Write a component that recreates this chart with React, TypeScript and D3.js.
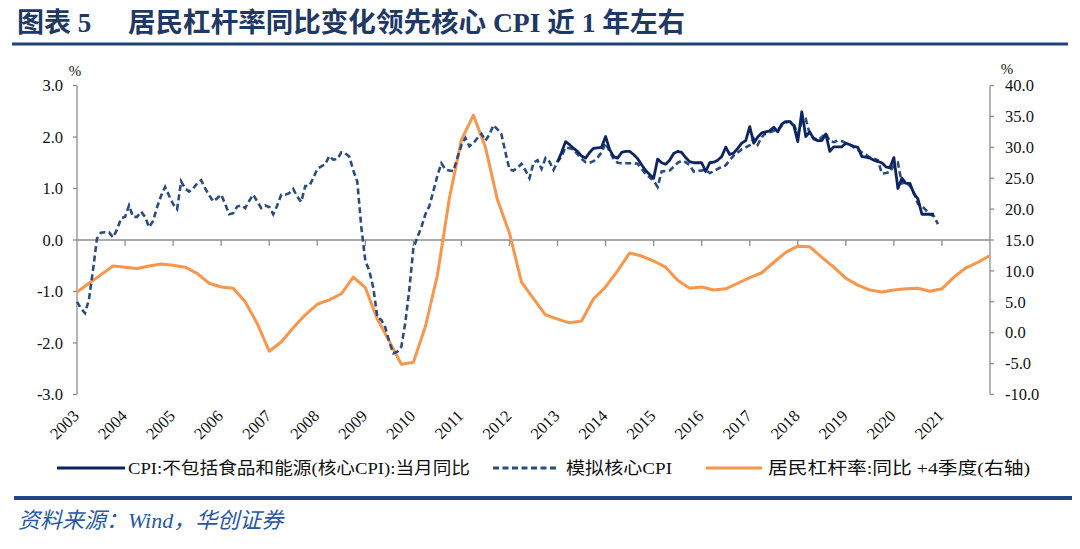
import React from 'react';
import * as d3 from 'd3';

const yearLabels = ['2003','2004','2005','2006','2007','2008','2009','2010','2011','2012','2013','2014','2015','2016','2017','2018','2019','2020','2021'];
const leftTicks = [-3, -2, -1, 0, 1, 2, 3];
const rightTicks = [-10, -5, 0, 5, 10, 15, 20, 25, 30, 35, 40];

// monthly, starting 2003-01
const simCore = [
  -1.20,-1.33,-1.42,-1.15,-0.58,0.03,0.14,0.15,0.15,0.05,0.20,0.42,
  0.45,0.67,0.45,0.45,0.55,0.45,0.25,0.37,0.64,0.86,1.03,0.86,
  0.70,0.60,1.14,1.00,0.94,1.00,1.10,1.16,1.00,0.87,0.75,0.81,
  0.88,0.70,0.50,0.52,0.65,0.67,0.62,0.76,0.88,0.75,0.62,0.67,
  0.64,0.50,0.67,0.88,0.88,0.91,0.99,0.84,0.74,1.05,1.05,1.20,
  1.38,1.43,1.47,1.63,1.56,1.57,1.70,1.68,1.62,1.35,1.13,0.25,
  -0.40,-0.60,-0.93,-1.50,-1.55,-1.70,-1.98,-2.20,-2.17,-2.07,-1.60,-0.95,
  -0.16,0.05,0.25,0.50,0.66,0.95,1.25,1.49,1.37,1.35,1.34,1.60,
  1.84,1.98,1.82,1.88,1.98,2.06,1.93,2.05,2.23,2.15,2.05,1.70,
  1.37,1.35,1.40,1.48,1.35,1.20,1.50,1.55,1.38,1.59,1.52,1.36,
  1.52,1.62,1.80,1.78,1.76,1.66,1.58,1.51,1.50,1.53,1.60,1.70,
  1.88,1.72,1.58,1.50,1.49,1.49,1.49,1.49,1.48,1.38,1.28,1.22,
  1.15,1.03,1.33,1.34,1.35,1.42,1.50,1.54,1.51,1.45,1.33,1.34,
  1.35,1.36,1.30,1.33,1.38,1.42,1.45,1.55,1.64,1.70,1.76,1.80,
  1.84,1.97,1.85,2.00,2.07,2.09,2.12,2.15,2.22,2.28,2.30,2.25,
  2.05,2.30,2.35,2.05,1.98,1.94,2.00,2.07,1.92,1.90,1.93,1.92,
  1.88,1.85,1.80,1.75,1.70,1.66,1.60,1.58,1.55,1.29,1.30,1.32,
  1.45,1.50,1.10,1.12,1.05,0.92,0.70,0.66,0.58,0.50,0.46,0.31
];

// monthly, starting 2013-01
const coreCpiStart = 120;
const coreCpi = [
  1.52,1.70,1.91,1.85,1.78,1.72,1.63,1.59,1.70,1.78,1.79,1.80,
  2.01,1.76,1.62,1.59,1.70,1.72,1.72,1.66,1.58,1.46,1.35,1.27,
  1.20,1.57,1.50,1.47,1.55,1.68,1.72,1.70,1.60,1.52,1.50,1.50,
  1.50,1.33,1.50,1.51,1.55,1.62,1.80,1.66,1.69,1.78,1.88,1.93,
  2.20,1.88,2.00,2.08,2.10,2.12,2.19,2.10,2.25,2.30,2.30,2.22,
  1.91,2.49,2.01,2.10,1.96,1.93,1.93,2.06,1.72,1.81,1.81,1.81,
  1.88,1.85,1.82,1.80,1.62,1.61,1.59,1.55,1.52,1.50,1.42,1.40,
  1.60,1.00,1.20,1.10,1.10,0.90,0.80,0.50,0.50,0.50,0.50
];

// quarterly, starting 2003Q1 (right axis)
const leverage = [
  6.6,8.0,9.4,10.8,10.6,10.4,10.8,11.1,10.9,10.6,9.6,8.0,
  7.4,7.2,5.0,1.5,-3.0,-1.5,0.8,2.9,4.6,5.3,6.3,9.0,
  7.3,2.2,-1.4,-5.1,-4.8,1.0,9.3,21.8,31.2,35.2,30.0,21.5,
  16.1,8.2,5.5,2.9,2.2,1.6,1.9,5.5,7.4,10.0,12.9,12.4,
  11.6,10.6,8.5,7.2,7.4,6.9,7.1,8.0,8.9,9.7,11.4,13.0,
  14.0,13.9,12.2,10.6,8.8,7.7,6.9,6.6,6.9,7.1,7.2,6.7,
  7.1,9.0,10.5,11.4,12.5
];

const legendItems = [
  { label: 'CPI:不包括食品和能源(核心CPI):当月同比', key: 'core' },
  { label: '模拟核心CPI', key: 'sim' },
  { label: '居民杠杆率:同比 +4季度(右轴)', key: 'lev' },
];

const NAVY = '#0c2461';
const DASH = '#2b4c7e';
const ORANGE = '#f8964b';
const AXIS = '#8e8e8e';
const SERIF = '"Liberation Serif", "Times New Roman", "Noto Sans CJK SC", serif';

export default function App() {
  const W = 1080, H = 549;
  const x = d3.scaleLinear().domain([0, 228]).range([77, 990]);
  const yL = d3.scaleLinear().domain([-3, 3]).range([394.5, 85.5]);
  const yR = d3.scaleLinear().domain([-10, 40]).range([394.5, 85.5]);

  const lineL = d3.line<[number, number]>().x(d => x(d[0])).y(d => yL(d[1]));
  const lineR = d3.line<[number, number]>().x(d => x(d[0])).y(d => yR(d[1]));

  const simPath = lineL(simCore.map((v, i) => [i, v] as [number, number])) || '';
  const corePath = lineL(coreCpi.map((v, i) => [coreCpiStart + i, v] as [number, number])) || '';
  const levPath = lineR(leverage.map((v, i) => [i * 3, v] as [number, number])) || '';

  const y0 = yL(0);
  const legendY = 468;
  const legendLayout = [
    { x1: 57, x2: 125, tx: 128, tl: 342 },
    { x1: 493, x2: 558, tx: 566, tl: 106 },
    { x1: 706, x2: 762, tx: 768, tl: 262 },
  ];

  return (
    <svg width={W} height={H} style={{ position: 'absolute', left: 0, top: 0, background: '#fff' }} fontFamily={SERIF}>
      <rect width={W} height={H} fill="#fff" />
      {/* Title */}
      <text x={17} y={32} fontSize={27} fontWeight="bold" fill="#1f3864">图表 5</text>
      <text x={128} y={32} fontSize={27} fontWeight="bold" fill="#1f3864" textLength={557} lengthAdjust="spacingAndGlyphs">居民杠杆率同比变化领先核心 CPI 近 1 年左右</text>
      <line x1={12} x2={1068} y1={44} y2={44} stroke="#1f4479" strokeWidth={3} />

      {/* Axes */}
      <line x1={x(0)} x2={x(0)} y1={yL(3)} y2={yL(-3)} stroke={AXIS} strokeWidth={1.3} />
      <line x1={x(228)} x2={x(228)} y1={yR(40)} y2={yR(-10)} stroke={AXIS} strokeWidth={1.3} />
      {leftTicks.map(t => (
        <g key={'l' + t}>
          <line x1={x(0) - 4} x2={x(0)} y1={yL(t)} y2={yL(t)} stroke={AXIS} strokeWidth={1.3} />
          <text x={63} y={yL(t)} dy="0.35em" textAnchor="end" fontSize={16.5} fill="#111">{t.toFixed(1)}</text>
        </g>
      ))}
      {rightTicks.map(t => (
        <g key={'r' + t}>
          <line x1={x(228)} x2={x(228) + 4} y1={yR(t)} y2={yR(t)} stroke={AXIS} strokeWidth={1.3} />
          <text x={1005} y={yR(t)} dy="0.35em" textAnchor="start" fontSize={16.5} fill="#111">{t.toFixed(1)}</text>
        </g>
      ))}
      <text x={75} y={76} textAnchor="middle" fontSize={15} fill="#111">%</text>
      <text x={1007} y={74} textAnchor="middle" fontSize={15} fill="#111">%</text>

      {/* zero line with year ticks */}
      <line x1={x(0)} x2={x(228)} y1={y0} y2={y0} stroke={AXIS} strokeWidth={1.5} />
      {yearLabels.map((yl, i) => (
        <g key={yl}>
          {i > 0 && <line x1={x(i * 12)} x2={x(i * 12)} y1={y0} y2={y0 + 6} stroke={AXIS} strokeWidth={1.3} />}
          <text transform={`translate(${x(i * 12) + 3},${417}) rotate(-45)`} textAnchor="end" fontSize={16.5} fill="#111">{yl}</text>
        </g>
      ))}

      {/* Series */}
      <path d={levPath} fill="none" stroke={ORANGE} strokeWidth={3} strokeLinejoin="round" />
      <path d={simPath} fill="none" stroke={DASH} strokeWidth={2.6} strokeDasharray="6,3.5" />
      <path d={corePath} fill="none" stroke={NAVY} strokeWidth={2.8} strokeLinejoin="round" />

      {/* Legend */}
      {legendItems.map((it, i) => {
        const L = legendLayout[i];
        const stroke = it.key === 'core' ? NAVY : it.key === 'sim' ? DASH : ORANGE;
        return (
          <g key={it.key}>
            <line x1={L.x1} x2={L.x2} y1={legendY} y2={legendY} stroke={stroke} strokeWidth={3}
              strokeDasharray={it.key === 'sim' ? '6,3.5' : undefined} />
            <text x={L.tx} y={legendY + 6} fontSize={17} fill="#111" textLength={L.tl} lengthAdjust="spacingAndGlyphs">{it.label}</text>
          </g>
        );
      })}

      {/* Footer */}
      <line x1={14} x2={1072} y1={498} y2={498} stroke="#1f4789" strokeWidth={4} />
      <text x={18} y={528} fontSize={22} fontStyle="italic" fill="#2858a6">资料来源：Wind，华创证券</text>
    </svg>
  );
}
